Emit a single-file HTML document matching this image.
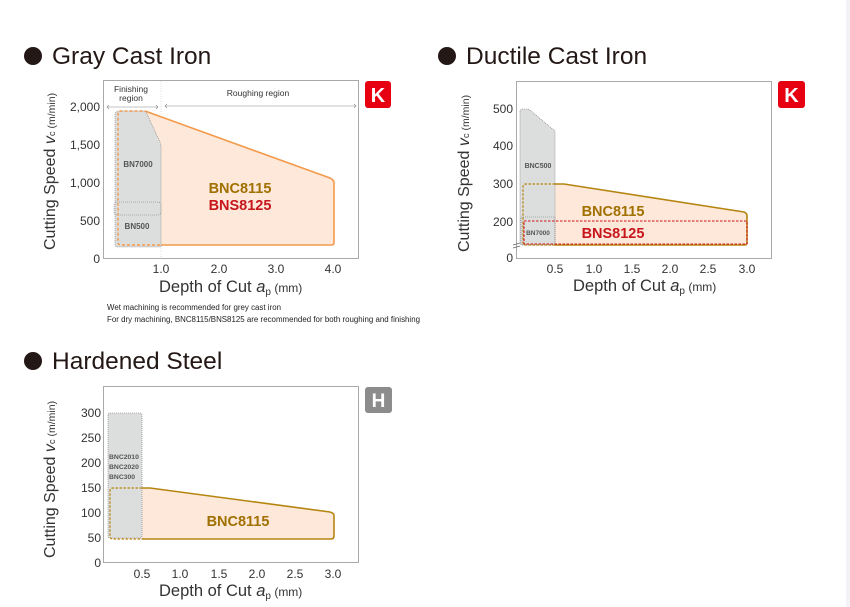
<!DOCTYPE html>
<html><head><meta charset="utf-8"><style>
html,body{margin:0;padding:0;background:#fff;width:850px;height:607px;overflow:hidden}
svg{display:block;font-family:"Liberation Sans",sans-serif}
</style></head><body>
<svg width="850" height="607" viewBox="0 0 850 607" xmlns="http://www.w3.org/2000/svg">
<rect x="0" y="0" width="850" height="607" fill="#fff"/>
<rect x="846" y="0" width="4" height="607" fill="#f1f3f6"/>

<circle cx="33" cy="56" r="9" fill="#231815"/>
<text x="52" y="64" font-size="24.5" fill="#231815">Gray Cast Iron</text>
<rect x="103.5" y="80.5" width="255" height="178" fill="#fff" stroke="#aaa" stroke-width="1"/>
<line x1="161" y1="81" x2="161" y2="258" stroke="#ccc" stroke-width="0.7" stroke-dasharray="1,1.5"/>
<text x="131" y="92" font-size="8.5" text-anchor="middle" fill="#333">Finishing</text>
<text x="131" y="101" font-size="8.5" text-anchor="middle" fill="#333">region</text>
<line x1="107" y1="107" x2="158" y2="107" stroke="#888" stroke-width="0.6"/>
<path d="M109,105 L107,107 L109,109 M156,105 L158,107 L156,109" stroke="#888" stroke-width="0.6" fill="none"/>
<text x="258" y="96" font-size="8.5" text-anchor="middle" fill="#333">Roughing region</text>
<line x1="165" y1="106" x2="356" y2="106" stroke="#888" stroke-width="0.6"/>
<path d="M167,104 L165,106 L167,108 M354,104 L356,106 L354,108" stroke="#888" stroke-width="0.6" fill="none"/>
<path d="M118,114 Q118,111 121,111 L145,111 L330,178 Q334,180 334,183 L334,243 Q334,245 331,245 L118,245 Z" fill="#fde8da"/>
<path d="M145,111 L330,178 Q334,180 334,183 L334,243 Q334,245 331,245 L160,245" fill="none" stroke="#f39a4c" stroke-width="1.6"/>
<path d="M115,115 Q115,111 119,111 L143,111 Q145,111 147,114 L158,138 Q161,143 161,147 L161,247 L118,247 Q115,247 115,244 Z" fill="#dcdddd" stroke="#777" stroke-width="0.6" stroke-dasharray="1,1"/>
<rect x="114" y="202" width="47" height="13" rx="3" fill="none" stroke="#777" stroke-width="0.6" stroke-dasharray="1,1"/>
<path d="M160,245 L121,245 Q118,245 118,242 L118,114 Q118,111 121,111 L145,111" fill="none" stroke="#f39a4c" stroke-width="1.4" stroke-dasharray="3,2"/>
<text x="138" y="167" font-size="8" font-weight="bold" text-anchor="middle" fill="#555">BN7000</text>
<text x="137" y="229" font-size="8" font-weight="bold" text-anchor="middle" fill="#555">BN500</text>
<text x="240" y="193" font-size="14.5" font-weight="bold" text-anchor="middle" fill="#a07000">BNC8115</text>
<text x="240" y="210" font-size="14.5" font-weight="bold" text-anchor="middle" fill="#c8161d">BNS8125</text>
<rect x="365" y="81" width="26" height="27" rx="3" fill="#e60012"/>
<text x="378" y="102" font-size="20" font-weight="bold" text-anchor="middle" fill="#fff">K</text>
<g font-size="12" fill="#333" text-anchor="end">
<text x="100" y="111">2,000</text><text x="100" y="149">1,500</text><text x="100" y="187">1,000</text><text x="100" y="225">500</text><text x="100" y="263">0</text>
</g>
<g font-size="12" fill="#333" text-anchor="middle">
<text x="161" y="273">1.0</text><text x="219" y="273">2.0</text><text x="276" y="273">3.0</text><text x="333" y="273">4.0</text>
</g>
<text x="159" y="292" font-size="16.5" fill="#333">Depth of Cut <tspan font-style="italic">a</tspan><tspan font-size="10" dy="3">p</tspan><tspan font-size="12" dy="-3"> (mm)</tspan></text>
<text transform="translate(55,250) rotate(-90)" font-size="16" fill="#333">Cutting Speed <tspan font-style="italic">v</tspan><tspan font-size="9.5">c</tspan><tspan font-size="10.5"> (m/min)</tspan></text>
<text x="107" y="310" font-size="7.9" fill="#222" textLength="174">Wet machining is recommended for grey cast iron</text>
<text x="107" y="322" font-size="7.9" fill="#222" textLength="313">For dry machining, BNC8115/BNS8125 are recommended for both roughing and finishing</text>

<circle cx="447" cy="56" r="9" fill="#231815"/>
<text x="466" y="64" font-size="24.5" fill="#231815">Ductile Cast Iron</text>
<rect x="516.5" y="81.5" width="255" height="177" fill="#fff" stroke="#aaa" stroke-width="1"/>
<path d="M523,187 Q523,184 526,184 L564,184 L744,212 Q747,213 747,216 L747,243 Q747,245 744,245 L523,245 Z" fill="#fde8da"/>
<path d="M555,184 L564,184 L744,212 Q747,213 747,216 L747,243 Q747,245 744,245 L555,245" fill="none" stroke="#b58510" stroke-width="1.6"/>
<path d="M520,112 Q520,109 523,109 L527,109 Q529,109 531,111 L555,131 L555,245 L522,245 Q520,245 520,242 Z" fill="#dcdddd" stroke="#777" stroke-width="0.6" stroke-dasharray="1,1"/>
<rect x="521" y="217" width="34" height="28" fill="none" stroke="#777" stroke-width="0.6" stroke-dasharray="1,1"/>
<path d="M555,184 L526,184 Q523,184 523,187 L523,242 Q523,245 526,245 L555,245" fill="none" stroke="#b58510" stroke-width="1.2" stroke-dasharray="2.5,1.5"/>
<rect x="524" y="221" width="223" height="23" fill="none" stroke="#d0121b" stroke-width="1.1" stroke-dasharray="2.5,1.5"/>
<text x="538" y="168" font-size="7" font-weight="bold" text-anchor="middle" fill="#555">BNC500</text>
<text x="538" y="235" font-size="6.5" font-weight="bold" text-anchor="middle" fill="#555">BN7000</text>
<text x="613" y="216" font-size="14.5" font-weight="bold" text-anchor="middle" fill="#a07000">BNC8115</text>
<text x="613" y="238" font-size="14.5" font-weight="bold" text-anchor="middle" fill="#c8161d">BNS8125</text>
<path d="M513,245 L520,243 M513,248 L520,246" stroke="#666" stroke-width="0.7"/>
<rect x="778" y="81" width="27" height="27" rx="3" fill="#e60012"/>
<text x="791.5" y="102" font-size="20" font-weight="bold" text-anchor="middle" fill="#fff">K</text>
<g font-size="12" fill="#333" text-anchor="end">
<text x="513" y="113">500</text><text x="513" y="150">400</text><text x="513" y="188">300</text><text x="513" y="226">200</text><text x="513" y="262">0</text>
</g>
<g font-size="12" fill="#333" text-anchor="middle">
<text x="555" y="273">0.5</text><text x="594" y="273">1.0</text><text x="632" y="273">1.5</text><text x="670" y="273">2.0</text><text x="708" y="273">2.5</text><text x="747" y="273">3.0</text>
</g>
<text x="573" y="291" font-size="16.5" fill="#333">Depth of Cut <tspan font-style="italic">a</tspan><tspan font-size="10" dy="3">p</tspan><tspan font-size="12" dy="-3"> (mm)</tspan></text>
<text transform="translate(469,252) rotate(-90)" font-size="16" fill="#333">Cutting Speed <tspan font-style="italic">v</tspan><tspan font-size="9.5">c</tspan><tspan font-size="10.5"> (m/min)</tspan></text>

<circle cx="33" cy="361" r="9" fill="#231815"/>
<text x="52" y="369" font-size="24.5" fill="#231815">Hardened Steel</text>
<rect x="103.5" y="386.5" width="255" height="176" fill="#fff" stroke="#aaa" stroke-width="1"/>
<path d="M110,491 Q110,488 113,488 L150,488 L330,512 Q334,513 334,516 L334,536 Q334,539 331,539 L110,539 Z" fill="#fde8da"/>
<path d="M142,488 L150,488 L330,512 Q334,513 334,516 L334,536 Q334,539 331,539 L142,539" fill="none" stroke="#b58510" stroke-width="1.6"/>
<rect x="108" y="413" width="34" height="125" rx="2" fill="#dcdddd" stroke="#777" stroke-width="0.6" stroke-dasharray="1,1"/>
<path d="M142,488 L113,488 Q110,488 110,491 L110,536 Q110,539 113,539 L142,539" fill="none" stroke="#b58510" stroke-width="1.2" stroke-dasharray="2.5,1.5"/>
<g font-size="6.8" font-weight="bold" fill="#555">
<text x="109" y="459">BNC2010</text><text x="109" y="469">BNC2020</text><text x="109" y="479">BNC300</text>
</g>
<text x="238" y="526" font-size="14.5" font-weight="bold" text-anchor="middle" fill="#a07000">BNC8115</text>
<rect x="365" y="387" width="27" height="26" rx="3" fill="#8c8c8c"/>
<text x="378.5" y="407" font-size="19" font-weight="bold" text-anchor="middle" fill="#fff">H</text>
<g font-size="12" fill="#333" text-anchor="end">
<text x="101" y="417">300</text><text x="101" y="442">250</text><text x="101" y="467">200</text><text x="101" y="492">150</text><text x="101" y="517">100</text><text x="101" y="542">50</text><text x="101" y="567">0</text>
</g>
<g font-size="12" fill="#333" text-anchor="middle">
<text x="142" y="578">0.5</text><text x="180" y="578">1.0</text><text x="219" y="578">1.5</text><text x="257" y="578">2.0</text><text x="295" y="578">2.5</text><text x="333" y="578">3.0</text>
</g>
<text x="159" y="596" font-size="16.5" fill="#333">Depth of Cut <tspan font-style="italic">a</tspan><tspan font-size="10" dy="3">p</tspan><tspan font-size="12" dy="-3"> (mm)</tspan></text>
<text transform="translate(55,558) rotate(-90)" font-size="16" fill="#333">Cutting Speed <tspan font-style="italic">v</tspan><tspan font-size="9.5">c</tspan><tspan font-size="10.5"> (m/min)</tspan></text>
</svg>
</body></html>
